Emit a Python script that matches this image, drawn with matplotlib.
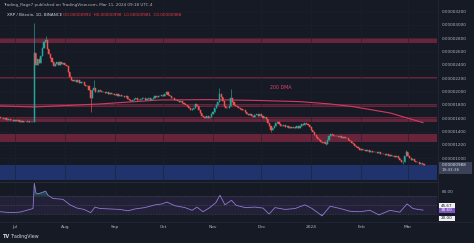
import numpy as np
import matplotlib
matplotlib.use("Agg")
import matplotlib.pyplot as plt
from matplotlib.patches import Rectangle
from matplotlib.lines import Line2D

# ---------------- data (prices in units of 1e-6 BTC) ----------------
first_open = 16.2
closes = [
    16.1, 16.0, 15.9, 16.0, 15.8, 15.9, 15.8, 15.7, 15.6,
    15.7, 15.6, 15.7, 15.5, 15.6, 15.5, 15.4, 15.5, 15.6, 15.4, 15.5, 15.5,
    25.8, 24.0, 24.9, 24.3, 25.3, 26.6, 27.4, 27.8,
    26.4, 25.6, 25.0, 24.4, 23.9, 24.2, 24.4, 24.0, 24.5, 24.2,
    24.3, 24.0, 23.8, 23.0, 22.2, 21.8, 21.6, 21.8, 21.5, 21.7,
    21.3, 21.5, 21.4, 21.0, 20.8, 20.9, 20.2, 19.0, 20.3, 20.5,
    19.9, 20.0, 20.2, 20.1, 19.9, 20.0, 19.8, 19.9, 19.7, 19.8,
    19.6, 19.7, 19.5, 19.6, 19.4, 19.5, 19.3, 19.4, 19.2, 19.3,
    18.9, 18.7, 18.6, 18.8, 18.9, 19.0, 18.8, 18.7, 18.9, 19.1,
    19.0, 18.8, 18.9, 19.0, 18.8, 18.9, 19.1, 19.3, 19.2, 19.4,
    19.3, 19.5, 19.4, 19.7, 19.9, 19.5, 19.3, 19.0, 19.1, 18.8,
    18.7, 18.6, 18.5, 18.6, 18.3, 18.1, 18.0, 17.9, 17.6, 17.3,
    17.4, 17.6, 18.1, 17.8, 17.3, 16.8, 16.4, 16.2, 16.1, 16.3,
    16.1, 16.2, 16.6, 17.0, 17.5, 18.0, 18.4, 19.6, 19.2, 18.6,
    17.8, 17.5, 17.6, 17.9, 19.0, 18.4, 18.0, 17.9, 17.7, 17.5,
    17.4, 17.3, 17.2, 16.9, 16.7, 16.5, 16.6, 16.3, 16.2, 16.5,
    16.7, 16.4, 16.6, 16.3, 16.1, 16.2, 15.9, 15.3, 14.8, 14.3,
    14.5, 14.9, 15.3, 15.4, 15.1, 14.9, 14.8, 15.0, 14.7, 14.8,
    14.6, 14.7, 14.5, 14.7, 14.6, 14.8, 14.6, 14.9, 15.1, 15.0,
    15.3, 15.2, 15.0, 14.7, 14.3, 13.9, 13.5, 13.2, 12.9, 12.7,
    12.5, 12.3, 12.4, 12.2, 12.8, 13.3, 13.7, 13.5, 13.4, 13.3,
    13.4, 13.2, 13.3, 13.1, 13.2, 13.0, 13.1, 12.8, 12.6, 12.3,
    12.1, 11.9, 11.7, 11.5, 11.3, 11.4, 11.2, 11.3, 11.1, 11.2,
    11.0, 11.1, 10.9, 11.0, 10.9, 10.8, 10.9, 10.7, 10.6, 10.7,
    10.5, 10.6, 10.4, 10.5, 10.3, 10.4, 10.2, 10.3, 10.1, 9.8,
    9.4, 9.5, 10.4, 10.9, 10.3, 10.0, 9.8, 9.9, 9.6, 9.5,
    9.4, 9.2, 9.3, 9.1, 9.0,
]
first_day = -9  # days relative to 1 Jul 2023

wick_days = [12, 19, 47, 49, 94, 127, 134, 159, 193, 241, 243]
wick_highs = [30.3, 28.3, 20.3, 21.8, 20.1, 20.6, 20.4, None, None, None, 11.3]
wick_lows = [15.4, None, 17.0, None, None, None, None, 13.9, 12.0, 9.1, None]

dma_days = [-9.3, 11.8, 52.8, 90, 121, 152, 177, 195.7, 210, 233, 253.4]
dma_vals = [17.85, 17.7, 18.15, 18.75, 18.8, 18.67, 18.5, 18.15, 17.75, 16.8, 15.35]

zones_red = [(27.3, 28.05), (21.9, 22.2), (17.7, 18.15), (15.45, 16.2), (12.45, 13.65)]
zone_blue = (6.75, 9.0)

rsi_days = [-9.3, -3, 3, 9.3, 11.2, 12, 13, 14.3, 16.8, 19, 20.5, 23.6, 26.7, 29.8,
            34.2, 38.5, 42.9, 47, 49.7, 52.8, 59, 65.2, 70.2, 74.5, 80.7, 87, 91.3,
            94.4, 99.4, 105.6, 110, 113, 116.8, 121, 124.8, 127.3, 130.4, 134.5,
            137.3, 143, 149, 154, 157.8, 161.5, 167.7, 174, 180, 184.5, 188, 190.7,
            195.7, 201.9, 208, 214, 220.5, 226, 233, 239, 243.5, 247.2, 250.3, 253.4]
rsi_vals = [35, 33, 34, 40, 42, 97, 76, 74, 77, 80, 71, 64, 63, 62,
            50, 43, 40, 33, 45, 42, 41, 40, 37, 41, 44, 50, 52,
            56, 48, 44, 38, 45, 35, 44, 55, 71, 50, 60,
            49, 44, 45, 43, 30, 44, 40, 42, 50, 42, 33, 26,
            47, 42, 36, 35, 38, 28, 38, 34, 52, 42, 40, 38.6]

month_days = [0, 31, 62, 92, 123, 153, 184, 215, 244]
month_labels = ["Jul", "Aug", "Sep", "Oct", "Nov", "Dec", "2024", "Feb", "Mar"]
price_ticks = [10, 12, 14, 16, 18, 20, 22, 24, 26, 28, 30, 32]

# ---------------- style ----------------
BG = "#161a25"
GRID = "#1d212d"
TXT = "#b2b5be"
UP = "#26a69a"
DN = "#ef5350"
W, H = 474, 243
XL = (-9.3, 262.1)

fig = plt.figure(figsize=(W / 100, H / 100), dpi=100, facecolor=BG)


def rect(x0, y0, x1, y1):
    return [x0 / W, 1 - y1 / H, (x1 - x0) / W, (y1 - y0) / H]


def fx(px):
    return px / W


def fy(py):
    return 1 - py / H


ax = fig.add_axes(rect(0, 0, 437, 181))
rax = fig.add_axes(rect(0, 182, 437, 221))
for a in (ax, rax):
    a.set_facecolor(BG)
    for s in a.spines.values():
        s.set_visible(False)
    a.set_xlim(*XL)

# main pane
ax.set_ylim(6.595, 33.744)
ax.set_xticks(month_days)
ax.tick_params(axis="x", length=0, labelbottom=False)
ax.yaxis.tick_right()
ax.set_yticks(price_ticks)
ax.set_yticklabels([f"{v * 1e-6:.8f}" for v in price_ticks])
ax.tick_params(axis="y", length=0, pad=3.4, labelsize=3, labelcolor=TXT)
ax.grid(True, color=GRID, lw=0.4, zorder=0)

for lo, hi in zones_red:
    ax.axhspan(lo, hi, color="#68243a", lw=0, zorder=1)
ax.axhspan(zone_blue[0], zone_blue[1], color="#21336c", lw=0, zorder=1)

ax.plot(dma_days, dma_vals, color="#d23a62", lw=0.8, zorder=2)
ax.text(165.2, 20.55, "200 DMA", color="#e0406a", fontsize=3.4, ha="center", va="center", zorder=4)

days = np.arange(first_day, first_day + len(closes))
closes_a = np.array(closes)
opens_a = np.concatenate([[first_open], closes_a[:-1]])
highs_a = np.maximum(opens_a, closes_a)
lows_a = np.minimum(opens_a, closes_a)
for d, hv, lv in zip(wick_days, wick_highs, wick_lows):
    i = d - first_day
    if hv is not None:
        highs_a[i] = hv
    if lv is not None:
        lows_a[i] = lv
cols = np.where(closes_a >= opens_a, UP, DN)
ax.vlines(days, lows_a, highs_a, colors=cols, lw=0.45, zorder=3)
ax.bar(days, closes_a - opens_a, bottom=opens_a, width=0.7, color=cols,
       edgecolor=cols, linewidth=0.35, zorder=3)

# RSI pane
rax.set_ylim(14.7, 99.9)
rax.set_yticks([])
rax.set_xticks(month_days)
rax.tick_params(axis="x", length=0, labelbottom=False)
rax.grid(True, axis="x", color=GRID, lw=0.4, zorder=0)
rax.axhspan(30, 70, color="#7e57c2", alpha=0.12, lw=0, zorder=1)
for lvl in (70, 50, 30):
    rax.axhline(lvl, color="#5d6070", lw=0.4, dashes=(1.2, 1.6), zorder=2)
rd = np.array(rsi_days)
rv = np.array(rsi_vals)
rax.fill_between(rd, rv, 30, where=rv < 30, interpolate=True, color=UP, alpha=0.5, lw=0, zorder=2)
rax.fill_between(rd, rv, 70, where=rv > 70, interpolate=True, color=UP, alpha=0.35, lw=0, zorder=2)
rax.plot(rd, rv, color="#9379d4", lw=0.6, zorder=3)

# separators
fig.add_artist(Line2D([0, fx(437.5)], [fy(181.5), fy(181.5)], color="#2a2e39", lw=0.6))
fig.add_artist(Line2D([fx(437.5), fx(437.5)], [fy(0), fy(221)], color="#23273a", lw=0.5))
fig.add_artist(Line2D([0, 1], [fy(221.5), fy(221.5)], color="#23273a", lw=0.5))

# time axis labels
for d, lab in zip(month_days, month_labels):
    px = (d - XL[0]) / (XL[1] - XL[0]) * 437
    fig.text(fx(px), fy(227), lab, color=TXT, fontsize=3.2, ha="center", va="center")

# right-side boxes
def box(x0, y0, x1, y1, fc):
    fig.add_artist(Rectangle((fx(x0), fy(y1)), (x1 - x0) / W, (y1 - y0) / H,
                             transform=fig.transFigure, facecolor=fc, edgecolor="none"))


last_py = 158.3 - (closes[-1] - 10) * 6.667
box(438.5, last_py - 3.2, 472, last_py + 9.0, "#3b4258")
fig.text(fx(442), fy(last_py), "0.00000988", color="#e8e8ee", fontsize=3, ha="left", va="center")
fig.text(fx(442), fy(last_py + 5.5), "19:43:36", color="#c8cad4", fontsize=3, ha="left", va="center")

fig.text(fx(442), fy(191.6), "80.00", color=TXT, fontsize=3, ha="left", va="center")
box(439, 203.3, 455, 208, "#f0f0f4")
fig.text(fx(447), fy(205.7), "45.67", color="#131722", fontsize=3, ha="center", va="center")
box(439, 208, 455, 212.5, "#7e57c2")
fig.text(fx(447), fy(210.3), "38.60", color="#ffffff", fontsize=3, ha="center", va="center")
box(439, 215.8, 455, 220.6, "#f0f0f4")
fig.text(fx(447), fy(218.2), "20.00", color="#131722", fontsize=3, ha="center", va="center")

# header
fig.text(fx(3), fy(5), "Trading_Rage7 published on TradingView.com, Mar 11, 2024 09:18 UTC-4",
         color=TXT, fontsize=3, ha="left", va="center")
fig.text(fx(7), fy(15), "XRP / Bitcoin, 1D, BINANCE", color="#d1d4dc", fontsize=3, ha="left", va="center")
fig.text(fx(63), fy(15), "O0.00000992  H0.00000998  L0.00000981  C0.00000988",
         color="#f23645", fontsize=3, ha="left", va="center")

# footer logo
fig.text(fx(3), fy(236.5), "TV", color="#d1d4dc", fontsize=3.6, fontweight="bold", ha="left", va="center")
fig.text(fx(11), fy(236.5), "TradingView", color="#d1d4dc", fontsize=3.4, ha="left", va="center")

fig.savefig("out.png", dpi=100, facecolor=BG)
